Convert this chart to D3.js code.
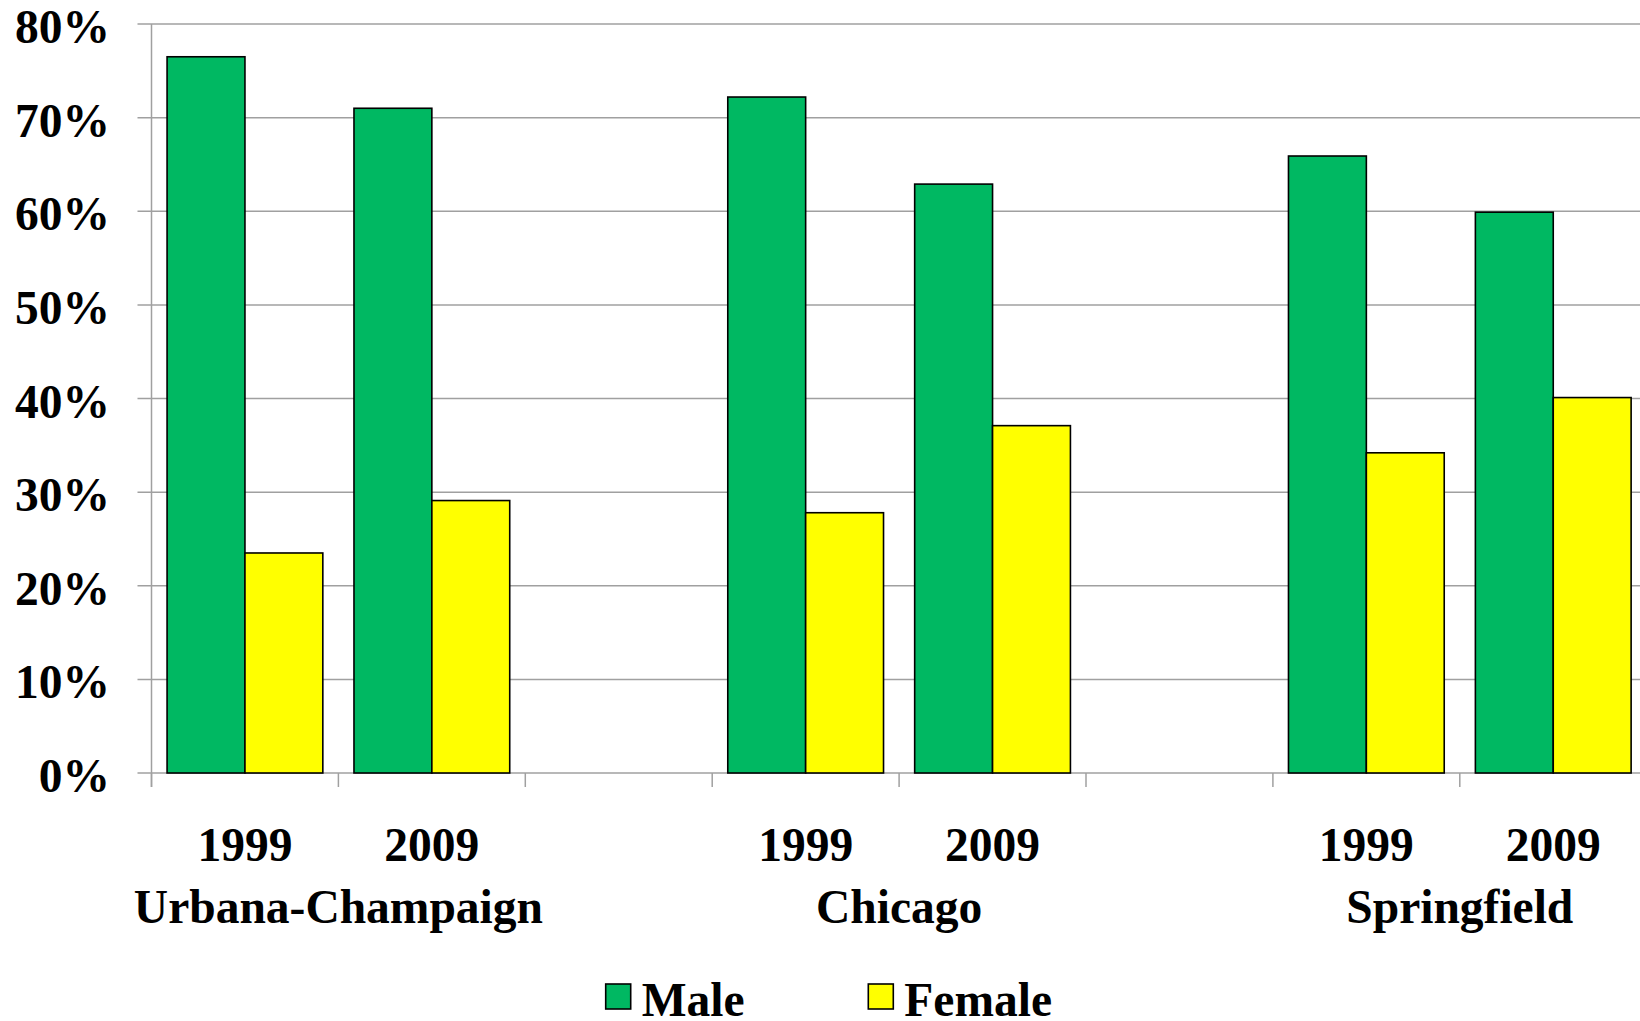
<!DOCTYPE html>
<html>
<head>
<meta charset="utf-8">
<script src="https://cdn.jsdelivr.net/npm/d3@7"></script>
<style>
  html, body { margin: 0; padding: 0; background: #fff; }
  svg { display: block; }
  text { font-family: "Liberation Serif", "Times New Roman", serif; font-weight: bold; fill: #000; }
</style>
</head>
<body>
<div id="chart"></div>
<script>
// ---- data ----
const cities = ["Urbana-Champaign", "Chicago", "Springfield"];
const years = ["1999", "2009"];
const series = ["Male", "Female"];
// values in %, order: [city][year]
const maleValues = [[76.5, 71.0], [72.2, 62.9], [65.9, 59.9]];
const femaleValues = [[23.5, 29.1], [27.8, 37.1], [34.2, 40.1]];
const yTicks = [0, 10, 20, 30, 40, 50, 60, 70, 80];
const colors = { Male: "#00B862", Female: "#FFFF00" };

// ---- layout ----
const W = 1640, H = 1021;
const x0 = 151.5, slotW = 186.9;
const yZero = 773, yTop = 24;
const FS = 47.5;

// build slot list: each city has its years, a blank slot between cities
const slots = [];
cities.forEach((c, ci) => {
  years.forEach((yr, yi) => slots.push({ key: c + "|" + yr, city: c, year: yr, ci, yi }));
  if (ci < cities.length - 1) slots.push({ key: "blank" + ci, blank: true });
});

const x = d3.scaleBand()
  .domain(slots.map(s => s.key))
  .range([x0, x0 + slotW * slots.length])
  .paddingInner(0).paddingOuter(0);

const xs = d3.scaleBand()
  .domain(series)
  .range([0, x.bandwidth()])
  .paddingInner(0).paddingOuter(0.2);

const y = d3.scaleLinear().domain([0, 80]).range([yZero, yTop]);

const svg = d3.select("#chart").append("svg")
  .attr("width", W).attr("height", H);

// gridlines
svg.append("g").selectAll("line")
  .data(yTicks)
  .join("line")
  .attr("x1", x0 - 14).attr("x2", x.range()[1])
  .attr("y1", d => y(d)).attr("y2", d => y(d))
  .attr("stroke", "#a0a0a0").attr("stroke-width", 1.5);

// y axis line
svg.append("line")
  .attr("x1", x0).attr("x2", x0)
  .attr("y1", y(80)).attr("y2", yZero + 14)
  .attr("stroke", "#a0a0a0").attr("stroke-width", 1.5);

// x tick marks at slot boundaries
const boundaries = slots.map(s => x(s.key)).concat([x.range()[1]]);
svg.append("g").selectAll("line")
  .data(boundaries)
  .join("line")
  .attr("x1", d => d).attr("x2", d => d)
  .attr("y1", yZero).attr("y2", yZero + 14)
  .attr("stroke", "#a0a0a0").attr("stroke-width", 1.5);

// y tick labels
svg.append("g").selectAll("text")
  .data(yTicks)
  .join("text")
  .attr("x", 110)
  .attr("y", d => y(d) + 19)
  .attr("text-anchor", "end")
  .attr("font-size", FS)
  .text(d => d + "%");

// bars
const barData = [];
slots.filter(s => !s.blank).forEach(s => {
  barData.push({ slot: s.key, series: "Male", v: maleValues[s.ci][s.yi] });
  barData.push({ slot: s.key, series: "Female", v: femaleValues[s.ci][s.yi] });
});
svg.append("g").selectAll("rect")
  .data(barData)
  .join("rect")
  .attr("x", d => x(d.slot) + xs(d.series))
  .attr("width", xs.bandwidth())
  .attr("y", d => y(d.v))
  .attr("height", d => yZero - y(d.v))
  .attr("fill", d => colors[d.series])
  .attr("stroke", "#000").attr("stroke-width", 1.6);

// year labels
svg.append("g").selectAll("text")
  .data(slots.filter(s => !s.blank))
  .join("text")
  .attr("x", d => x(d.key) + x.bandwidth() / 2)
  .attr("y", 861)
  .attr("text-anchor", "middle")
  .attr("font-size", FS)
  .text(d => d.year);

// city labels
svg.append("g").selectAll("text")
  .data(cities)
  .join("text")
  .attr("x", c => x(c + "|" + years[0]) + x.bandwidth())
  .attr("y", 923)
  .attr("text-anchor", "middle")
  .attr("font-size", FS)
  .text(c => c);

// legend
const legendPos = [605.7, 868.3];
const lg = svg.append("g").selectAll("g")
  .data(series)
  .join("g")
  .attr("transform", (d, i) => `translate(${legendPos[i]},984)`);
lg.append("rect")
  .attr("width", 25).attr("height", 25)
  .attr("fill", d => colors[d])
  .attr("stroke", "#000").attr("stroke-width", 1.6);
lg.append("text")
  .attr("x", 36).attr("y", 32)
  .attr("font-size", FS)
  .text(d => d);
</script>
</body>
</html>
